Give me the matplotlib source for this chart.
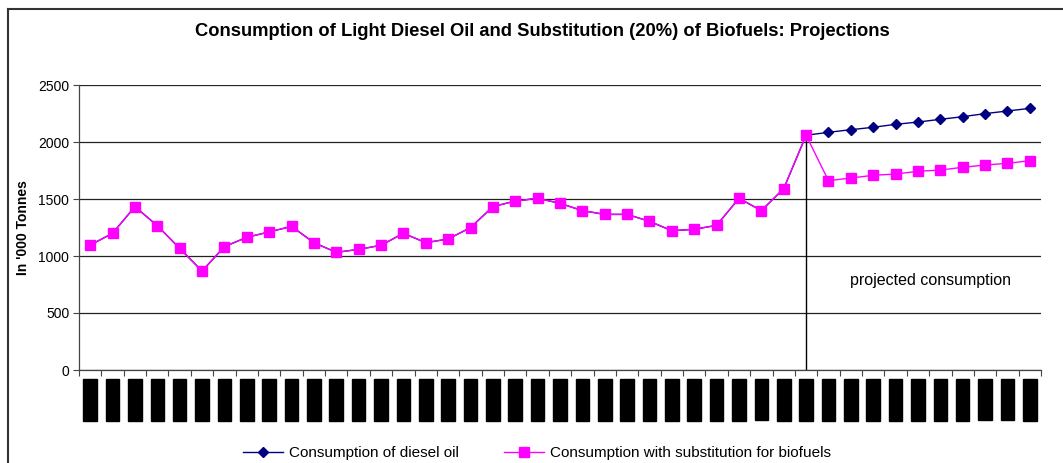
import matplotlib
matplotlib.use("Agg")
import matplotlib.pyplot as plt
from matplotlib.lines import Line2D
import numpy as np

plt.rcParams['font.family'] = ['Liberation Sans', 'DejaVu Sans']

# Year labels (rendered obscured in the original)
years = [f"{y}-{str(y+1)[-2:]}" for y in range(1970, 2013)]

diesel = [1096, 1199, 1433, 1266, 1067, 868, 1082, 1164, 1211, 1260,
          1117, 1032, 1058, 1094, 1199, 1117, 1149, 1249, 1433, 1482,
          1506, 1462, 1398, 1365, 1365, 1304, 1222, 1234, 1269, 1506,
          1398, 1591, 2059,
          2085, 2108, 2129, 2155, 2175, 2199, 2222, 2249, 2272, 2295]
substitution = [1096, 1199, 1433, 1266, 1067, 868, 1082, 1164, 1211, 1260,
                1117, 1032, 1058, 1094, 1199, 1117, 1149, 1249, 1433, 1482,
                1506, 1462, 1398, 1365, 1365, 1304, 1222, 1234, 1269, 1506,
                1398, 1591, 2059,
                1661, 1684, 1708, 1719, 1743, 1754, 1778, 1798, 1813, 1836]
projection_start = 32

W, H = 1063, 463
fig = plt.figure(figsize=(W/100, H/100), dpi=100)
ax = fig.add_axes([79/W, 1-370/H, (1041-79)/W, (370-85)/H])

x = np.arange(len(years))
ax.set_xlim(-0.5, len(years)-0.5)
ax.set_ylim(0, 2500)
ax.set_yticks([0, 500, 1000, 1500, 2000, 2500])
ax.yaxis.grid(True, color='#222222', linewidth=0.9)
ax.set_axisbelow(True)

for s in ['top', 'right']:
    ax.spines[s].set_visible(False)
for s in ['left', 'bottom']:
    ax.spines[s].set_color('#444444')
    ax.spines[s].set_linewidth(0.9)

# vertical drop line at start of projections
ax.plot([x[projection_start], x[projection_start]], [0, diesel[projection_start]],
        color='black', linewidth=1.0, zorder=2)

ax.plot(x, diesel, color='#000080', marker='D', markersize=5.5, linewidth=1.0,
        label='Consumption of diesel oil', zorder=3)
ax.plot(x, substitution, color='#FF00FF', marker='s', markersize=7, linewidth=1.0,
        label='Consumption with substitution for biofuels', zorder=4)

# ticks: marks at category boundaries, labels at centres
ax.set_xticks(np.arange(-0.5, len(years), 1))
ax.set_xticklabels([])
ax.tick_params(axis='x', which='major', length=4, direction='out', color='#444444')
ax.set_xticks(x, years, minor=True)
ax.tick_params(axis='x', which='minor', length=0, pad=7.5)
for lab in ax.get_xticklabels(minor=True):
    lab.set_rotation(90)
    lab.set_fontsize(7.6)
    lab.set_color('black')
    lab.set_va('top')
    lab.set_bbox(dict(boxstyle='square,pad=0.17', facecolor='black', edgecolor='black'))

ax.tick_params(axis='y', length=4, direction='out', labelsize=10, color='#444444', pad=3)

ax.set_ylabel("In '000 Tonnes", fontsize=10, fontweight='bold', labelpad=6)

fig.text(542/W, 1-32/H, 'Consumption of Light Diesel Oil and Substitution (20%) of Biofuels: Projections',
         ha='center', va='center', fontsize=13.2, fontweight='bold')

ax.text((930-79)/962, (370-280)/285, 'projected consumption', transform=ax.transAxes,
        ha='center', va='center', fontsize=11.5)

leg = fig.legend(loc='center', bbox_to_anchor=(537/W, 1-453/H), ncol=2, frameon=False,
                 fontsize=11, handlelength=2.6, columnspacing=3.0, handletextpad=0.4)

# outer chart border (left and top visible)
fig.add_artist(Line2D([8/W, 8/W], [0, 1-9/H], color='#333333', linewidth=1.5))
fig.add_artist(Line2D([8/W, 1], [1-9/H, 1-9/H], color='#333333', linewidth=1.5))

fig.savefig('out.png', dpi=100)
